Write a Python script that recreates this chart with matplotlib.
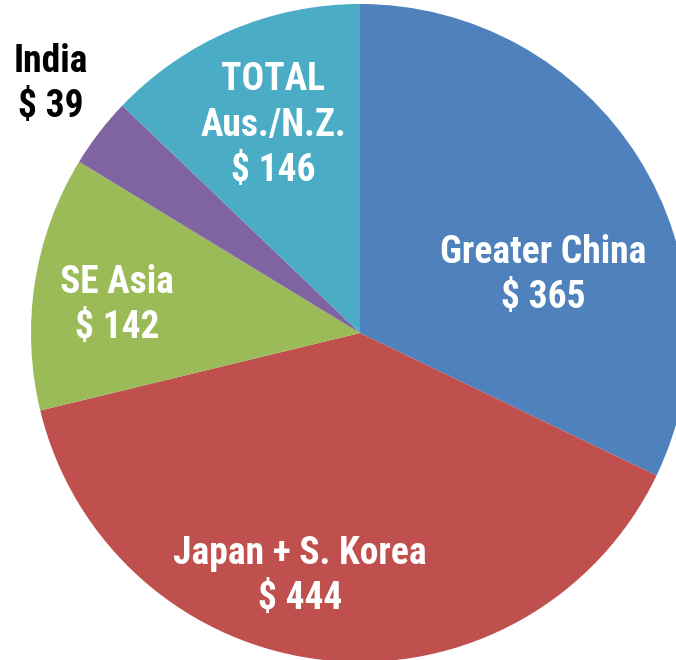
import matplotlib
matplotlib.use("Agg")
import matplotlib.pyplot as plt
from matplotlib import font_manager

regions = ["Greater China", "Japan + S. Korea", "SE Asia", "India", "TOTAL\nAus./N.Z."]
values = [365, 444, 142, 39, 146]
colors = ["#4F81BD", "#C0504D", "#9BBB59", "#8064A2", "#4BACC6"]

names = {f.name for f in font_manager.fontManager.ttflist}
fam = [f for f in ["Roboto Condensed", "PT Sans Narrow", "Liberation Sans"] if f in names] + ["DejaVu Sans"]

fig = plt.figure(figsize=(6.76, 6.6), dpi=100)
ax = fig.add_axes([0, 0, 1, 1])
ax.pie(values, colors=colors, startangle=90, counterclock=False,
       center=(360, 327), radius=329, wedgeprops=dict(linewidth=0))
ax.set_xlim(0, 676)
ax.set_ylim(0, 660)
ax.set_aspect("equal")
ax.axis("off")

label_pos = [(543, 385, "white"), (300, 84, "white"), (117, 355, "white"),
             (51, 576, "black"), (273, 535, "white")]
for name, v, (x, y, c) in zip(regions, values, label_pos):
    ax.text(x, y, f"{name}\n$ {v}", ha="center", va="center", color=c,
            fontsize=27, fontweight="bold", family=fam, linespacing=1.3)

fig.savefig("out.png", dpi=100)
